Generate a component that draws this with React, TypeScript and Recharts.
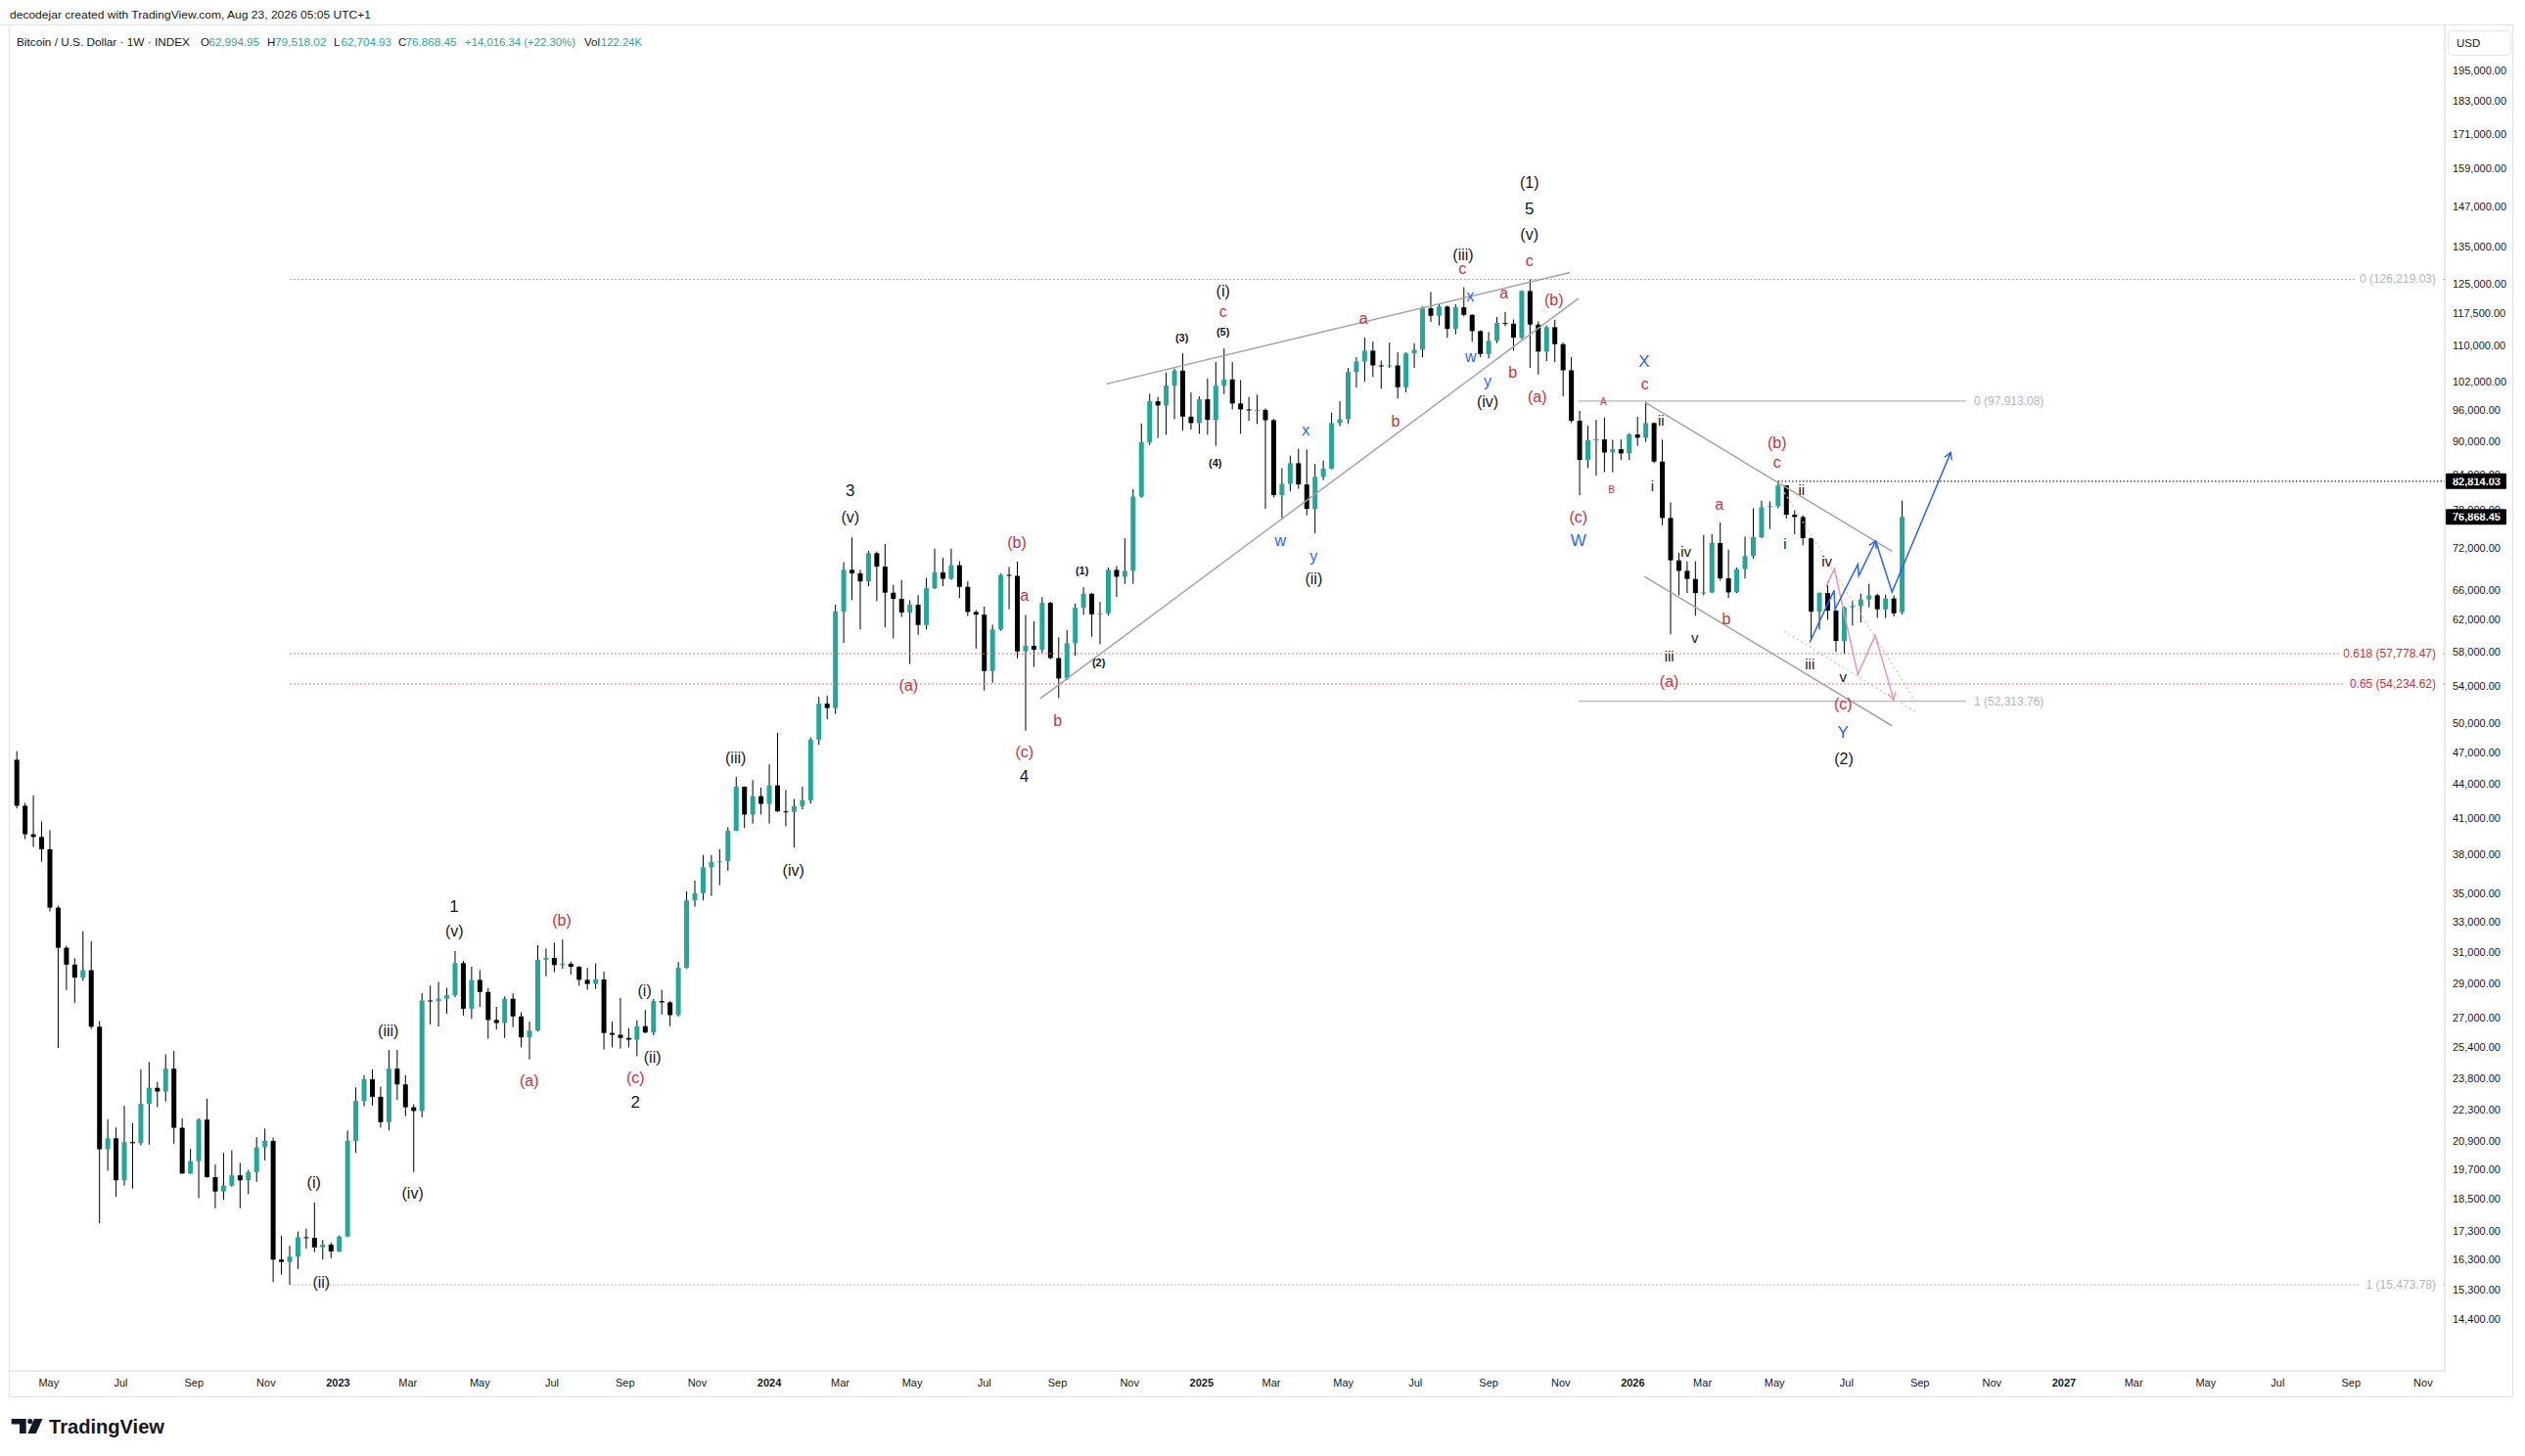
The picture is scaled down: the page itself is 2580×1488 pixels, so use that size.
import React from "react";
import { ComposedChart, Bar, Line, Scatter, XAxis, YAxis, ReferenceLine } from "recharts";

const FONT = "'Liberation Sans', Arial, Helvetica, sans-serif";
const W = 2580;
const H = 1488;
const X_MIN = -0.852;
const X_MAX = 293.62;
const Y_MIN = 12929;
const Y_MAX = 214866;
const RED = "#c9303e";
const BLUE = "#2962ff";
const TEAL = "#26a69a";
const INK = "#131722";

// weekly candles, week 0 = 2022-04-04
const opens = [46300,42060,39630,39410,38410,34000,31270,30190,29380,29840,26520,20535,21010,19245,20845,20795,22575,23345,23165,24295,21475,19520,20030,21845,19370,18800,19035,19445,19245,19580,20615,20895,16310,16230,16410,17090,17065,16730,16825,16590,17115,20895,22715,23770,22910,21730,24295,23510,22415,22240,28010,27970,28115,28315,30285,27535,29240,28515,26895,26725,28115,27095,25935,26300,30495,30610,30160,30245,30050,29245,28995,29270,26175,26075,25905,25810,26550,26200,27975,27900,27170,29995,34520,35045,37000,37385,37460,39920,43765,41295,42910,42225,43890,41570,41530,42030,42540,48290,52045,51570,63085,68835,68325,67175,71265,69290,65620,64770,62965,63985,61340,66245,68450,67550,69490,66425,63030,62675,55725,60760,68110,67970,58050,58725,58250,64245,57250,54860,59050,63595,65480,62730,62850,68820,67840,68680,80210,89810,97850,97000,101100,104320,94770,93490,98250,94130,101100,102420,97400,96200,96000,96100,94065,80440,82360,85980,82250,78165,83560,84995,93490,94260,104030,106330,108750,105450,105300,105450,100760,108150,108960,118800,116970,119230,113810,119060,117200,113280,108000,111000,115220,115050,111750,123170,114840,108530,114220,110230,104390,93950,86580,90190,90370,87930,88540,87760,91300,90680,93500,86280,76700,70200,68680,67530,65570,65660,72780,67610,65660,68930,70820,73670,78440,78600,82090,77220,76850,73530,63080,65570,63210,59330,63640,63810,64700,65260,63380,64830,62994.95];
const highs = [47140,42320,42990,40700,39975,34135,31400,30595,32370,31690,26830,21860,21490,22485,21695,24255,24640,23640,25030,25205,21900,20550,21900,22820,19890,20375,20490,19955,19670,21055,21440,21040,17145,16785,17295,17400,18370,16990,16905,17155,21355,23365,23970,24255,23400,25265,25265,23970,22560,28450,28900,29125,28760,31055,30430,30050,29840,28740,27640,28250,28435,27330,26800,31430,31225,31610,31815,30390,30110,29990,30265,29760,26800,28165,26440,26870,27460,28090,28645,27975,30355,35170,35975,37950,37950,38415,40220,44680,43800,44385,43680,45865,48980,43475,42660,43765,48515,52790,52940,63985,69945,73645,68835,71600,71500,72620,66710,67340,64585,65290,67690,71940,70590,71940,70070,67175,63275,63730,61390,68290,69245,70000,62650,61800,65030,64400,59785,60675,64160,66375,65600,64375,69150,69380,73525,81420,93420,99390,98750,103890,104750,108150,99670,98850,102640,106185,109260,106185,102270,98750,99200,96400,94330,85110,87330,88650,88470,85860,86455,95550,97850,104895,107260,111740,110830,106530,110620,108370,108370,110450,119230,122920,119920,119490,119800,124190,117400,113500,113050,116640,117900,116100,123340,126219.03,115630,114610,116010,110620,107270,95890,92980,94140,94580,90310,90370,91550,94710,97913.08,93630,90310,79240,71300,70070,70070,74020,74120,75970,71790,69160,73770,78270,79510,79400,82814.03,82140,77900,77120,73600,65660,67150,63300,63720,64590,65490,66840,65490,65360,65260,79518.02];
const lows = [41830,39230,38590,37430,33740,25360,28630,27860,29195,26400,17600,19630,18595,19035,18915,20700,20730,22415,22680,20780,19500,19500,18540,19350,18155,18480,18990,18155,18695,19185,20060,15560,15805,15473.78,15995,16690,16565,16310,16360,16565,17090,20375,22465,22490,21475,21355,22770,22000,19580,21950,26640,26535,27255,28200,27145,26955,27640,25865,26375,25905,26495,25400,24770,26250,29460,29710,29930,29570,28890,28645,28700,25280,25400,25335,25400,24930,26150,26050,27200,26550,27095,29945,34070,34520,34840,35635,36725,39880,40145,40520,41295,40520,41490,40290,38555,41740,42250,47755,50375,50945,59080,64585,60770,66510,64465,61050,59635,62375,56535,60090,60770,66120,66510,67400,64890,62500,58365,53490,54370,60600,63380,57225,49200,56190,57850,57100,52665,54700,57530,62650,59860,58920,62560,65030,66840,66840,80000,89320,90610,91230,94260,92030,92220,91420,91230,89140,99320,96200,91420,93940,93300,78165,80060,76690,81130,81520,77110,74270,83000,84900,92880,93430,100700,101930,102980,100420,104900,98380,99700,104895,107260,115460,114600,111740,112510,116800,110770,107270,107050,110470,114450,108750,111350,104890,103470,106400,106180,98860,93500,80430,85110,83780,84370,84370,86580,86580,89140,89880,85990,75550,60150,65260,65570,62520,65260,65570,67290,64910,65570,67610,70450,73530,74940,78270,76590,74120,72430,59460,60760,62020,58010,57740,61260,61680,63640,62230,62230,62440,62704.93];
const closes = [42060,39630,39410,38410,34000,31270,30190,29380,29840,26520,20535,21010,19245,20845,20795,22575,23345,23165,24295,21475,19520,20030,21845,19370,18800,19035,19445,19245,19580,20615,20895,16310,16230,16410,17090,17065,16730,16825,16590,17115,20895,22715,23770,22910,21730,24295,23510,22415,22240,28010,27970,28115,28315,30285,27535,29240,28515,26895,26725,28115,27095,25935,26300,30495,30610,30160,30245,30050,29245,28995,29270,26175,26075,25905,25810,26550,26200,27975,27900,27170,29995,34520,35045,37000,37385,37460,39920,43765,41295,42910,42225,43890,41570,41530,42030,42540,48290,52045,51570,63085,68835,68325,67175,71265,69290,65620,64770,62965,63985,61340,66245,68450,67550,69490,66425,63030,62675,55725,60760,68110,67970,58050,58725,58250,64245,57250,54860,59050,63595,65480,62730,62850,68820,67840,68680,80210,89810,97850,97000,101100,104320,94770,93490,98250,94130,101100,102420,97400,96200,96000,96100,94065,80440,82360,85980,82250,78165,83560,84995,93490,94260,104030,106330,108750,105450,105300,105450,100760,108150,108960,118800,116970,119230,113810,119060,117200,113280,108000,111000,115220,115050,111750,123170,114840,108530,114220,110230,104390,93950,86580,90190,90370,87930,88540,87760,91300,90680,93500,86280,76700,70200,68680,67530,65570,65660,72780,67610,65660,68930,70820,73670,78440,78600,82090,77220,76850,73530,63080,65570,63210,59330,63640,63810,64700,65260,63380,64830,62852.11,76868.45];

const priceTicks = [195000,183000,171000,159000,147000,135000,125000,117500,110000,102000,96000,90000,84000,78000,72000,66000,62000,58000,54000,50000,47000,44000,41000,38000,35000,33000,31000,29000,27000,25400,23800,22300,20900,19700,18500,17300,16300,15300,14400];

const monthTicks = ["2022-05","2022-07","2022-09","2022-11","2023-01","2023-03","2023-05","2023-07","2023-09","2023-11","2024-01","2024-03","2024-05","2024-07","2024-09","2024-11","2025-01","2025-03","2025-05","2025-07","2025-09","2025-11","2026-01","2026-03","2026-05","2026-07","2026-09","2026-11","2027-01","2027-03","2027-05","2027-07","2027-09","2027-11"];
const MONTH_NAMES = ["Jan","Feb","Mar","Apr","May","Jun","Jul","Aug","Sep","Oct","Nov","Dec"];

// wave count labels: text, week index, price, kind
const waveLabels = [
  { t: "1", i: 52.88, p: 34050, k: "num" },
  { t: "(v)", i: 52.92, p: 32370, k: "blk" },
  { t: "(iii)", i: 44.92, p: 26310, k: "blk" },
  { t: "(iv)", i: 47.87, p: 18730, k: "blk" },
  { t: "(i)", i: 35.92, p: 19140, k: "blk" },
  { t: "(ii)", i: 36.82, p: 15565, k: "blk" },
  { t: "(b)", i: 65.9, p: 33120, k: "red" },
  { t: "(a)", i: 61.96, p: 23680, k: "red" },
  { t: "(c)", i: 74.81, p: 23835, k: "red" },
  { t: "2", i: 74.81, p: 22635, k: "num" },
  { t: "(i)", i: 75.92, p: 28610, k: "blk" },
  { t: "(ii)", i: 76.87, p: 24860, k: "blk" },
  { t: "(iii)", i: 86.93, p: 46500, k: "blk" },
  { t: "(iv)", i: 93.92, p: 36790, k: "blk" },
  { t: "(a)", i: 107.84, p: 54040, k: "red" },
  { t: "3", i: 100.79, p: 81120, k: "num" },
  { t: "(v)", i: 100.79, p: 76860, k: "blk" },
  { t: "(b)", i: 120.94, p: 72920, k: "red" },
  { t: "a", i: 121.85, p: 65265, k: "red" },
  { t: "(c)", i: 121.85, p: 47060, k: "red" },
  { t: "4", i: 121.83, p: 44740, k: "num" },
  { t: "b", i: 125.87, p: 50280, k: "red" },
  { t: "(1)", i: 128.83, p: 68680, k: "sm" },
  { t: "(2)", i: 130.84, p: 56755, k: "sm" },
  { t: "(3)", i: 140.9, p: 111750, k: "sm" },
  { t: "(4)", i: 144.93, p: 85985, k: "sm" },
  { t: "(5)", i: 145.87, p: 113055, k: "sm" },
  { t: "c", i: 145.87, p: 118010, k: "red" },
  { t: "(i)", i: 145.87, p: 123180, k: "blk" },
  { t: "w", i: 152.81, p: 73170, k: "blue" },
  { t: "x", i: 155.89, p: 92170, k: "blue" },
  { t: "y", i: 156.84, p: 70820, k: "blue" },
  { t: "(ii)", i: 156.84, p: 67510, k: "blk" },
  { t: "a", i: 162.87, p: 116405, k: "red" },
  { t: "b", i: 166.74, p: 93940, k: "red" },
  { t: "(iii)", i: 174.91, p: 132930, k: "blk" },
  { t: "c", i: 174.82, p: 129105, k: "red" },
  { t: "x", i: 175.77, p: 121830, k: "blue" },
  { t: "w", i: 175.82, p: 107490, k: "blue" },
  { t: "y", i: 177.87, p: 102080, k: "blue" },
  { t: "(iv)", i: 177.87, p: 97855, k: "blk" },
  { t: "a", i: 179.84, p: 122680, k: "red" },
  { t: "b", i: 180.91, p: 103890, k: "red" },
  { t: "(1)", i: 182.92, p: 154400, k: "blk" },
  { t: "5", i: 182.92, p: 146235, k: "num" },
  { t: "(v)", i: 182.92, p: 138670, k: "blk" },
  { t: "c", i: 182.92, p: 131125, k: "red" },
  { t: "(b)", i: 185.88, p: 121010, k: "red" },
  { t: "(a)", i: 183.87, p: 98860, k: "red" },
  { t: "A", i: 191.87, p: 97855, k: "redSm" },
  { t: "B", i: 192.86, p: 81420, k: "redSm" },
  { t: "X", i: 196.8, p: 106335, k: "blueL" },
  { t: "c", i: 196.89, p: 101370, k: "red" },
  { t: "ii", i: 198.85, p: 94070, k: "rom" },
  { t: "i", i: 197.79, p: 82085, k: "rom" },
  { t: "(c)", i: 188.84, p: 76845, k: "red" },
  { t: "W", i: 188.84, p: 73115, k: "blueL" },
  { t: "a", i: 205.88, p: 78960, k: "red" },
  { t: "(b)", i: 212.87, p: 89755, k: "red" },
  { t: "c", i: 212.87, p: 86160, k: "red" },
  { t: "ii", i: 215.83, p: 81300, k: "rom" },
  { t: "i", i: 213.85, p: 72770, k: "rom" },
  { t: "iv", i: 201.86, p: 71545, k: "rom" },
  { t: "v", i: 202.92, p: 59730, k: "rom" },
  { t: "iii", i: 199.84, p: 57455, k: "rom" },
  { t: "(a)", i: 199.84, p: 54560, k: "red" },
  { t: "b", i: 206.75, p: 62090, k: "red" },
  { t: "iv", i: 218.9, p: 70100, k: "rom" },
  { t: "iii", i: 216.84, p: 56570, k: "rom" },
  { t: "v", i: 220.86, p: 55040, k: "rom" },
  { t: "(c)", i: 220.86, p: 52025, k: "red" },
  { t: "Y", i: 220.86, p: 49030, k: "blueL" },
  { t: "(2)", i: 220.95, p: 46425, k: "blk" },
];

// trend lines (week index, price)
const wedgeUpper = [{ i: 131.79, p: 101460 }, { i: 187.81, p: 128050 }];
const wedgeLower = [{ i: 123.74, p: 52590 }, { i: 188.84, p: 121260 }];
const channelUpper = [{ i: 196.89, p: 97650 }, { i: 226.78, p: 71545 }];
const channelLower = [{ i: 196.82, p: 67890 }, { i: 226.78, p: 49700 }];
const endingUpper = [{ i: 213.76, p: 80875 }, { i: 229.74, p: 52130 }];
const endingLower = [{ i: 213.76, p: 60550 }, { i: 229.56, p: 51180 }];
const bluePathA = [
  { i: 216.81, p: 59120 }, { i: 219.77, p: 65930 }, { i: 219.88, p: 63370 },
  { i: 222.64, p: 69610 }, { i: 222.76, p: 67985 }, { i: 224.8, p: 73115 },
];
const bluePathB = [{ i: 224.8, p: 73115 }, { i: 226.78, p: 65705 }, { i: 233.88, p: 87940 }];
const pinkPath = [
  { i: 218.81, p: 66380 }, { i: 219.8, p: 69005 }, { i: 222.64, p: 55310 },
  { i: 224.74, p: 60020 }, { i: 226.98, p: 52480 },
];

// fibonacci levels
const fibMainStart = 33;
const fibMainLevels = [
  { v: 126219.03, label: "0 (126,219.03)", k: "gray" },
  { v: 57778.47, label: "0.618 (57,778.47)", k: "red" },
  { v: 54234.62, label: "0.65 (54,234.62)", k: "red" },
  { v: 15473.78, label: "1 (15,473.78)", k: "gray" },
];
const fibSecondStart = 188.84;
const fibSecondEnd = 235.74;
const fibSecondLevels = [
  { v: 97913.08, label: "0 (97,913.08)" },
  { v: 52313.76, label: "1 (52,313.76)" },
];
const bHighWeek = 213;
const bHighPrice = 82814.03;
const lastPrice = 76868.45;

const candles = opens.map((o, k) => ({
  i: k, o, h: highs[k], l: lows[k], c: closes[k], range: [lows[k], highs[k]],
}));

const weekOf = (s: string) => {
  const [y, m] = s.split("-").map(Number);
  return (Date.UTC(y, m - 1, 1) - Date.UTC(2022, 3, 4)) / (7 * 86400000);
};
const monthTickValues = monthTicks.map(weekOf);
const monthTickLabels = monthTicks.map((s) => {
  const [y, m] = s.split("-").map(Number);
  return m === 1 ? String(y) : MONTH_NAMES[m - 1];
});

const labelStyles: Record<string, { size: number; fill: string; weight: number }> = {
  num: { size: 17, fill: INK, weight: 500 },
  blk: { size: 16, fill: INK, weight: 400 },
  red: { size: 16, fill: RED, weight: 400 },
  sm: { size: 11, fill: INK, weight: 700 },
  redSm: { size: 10, fill: RED, weight: 400 },
  blue: { size: 16, fill: BLUE, weight: 400 },
  blueL: { size: 17, fill: BLUE, weight: 400 },
  rom: { size: 15, fill: INK, weight: 400 },
};

const fmt2 = (v: number) =>
  v.toLocaleString("en-US", { minimumFractionDigits: 2, maximumFractionDigits: 2 });

const Candle = (props: any) => {
  const { x, y, width, height, payload } = props;
  if (!payload || x == null) return null;
  const top = Math.min(y, y + height);
  const bot = Math.max(y, y + height);
  const lh = Math.log(payload.h);
  const ll = Math.log(payload.l);
  const span = lh - ll || 1;
  const py = (v: number) => top + ((bot - top) * (lh - Math.log(v))) / span;
  const cx = x + width / 2;
  const up = payload.c >= payload.o;
  const yo = py(payload.o);
  const yc = py(payload.c);
  const bTop = Math.min(yo, yc);
  const bH = Math.max(1, Math.abs(yc - yo));
  return (
    <g>
      <line x1={cx} x2={cx} y1={top} y2={bot} stroke="#000" strokeWidth={1} />
      <rect x={cx - 2.5} y={bTop} width={5} height={bH} fill={up ? TEAL : "#000"} />
    </g>
  );
};

const WaveText = (props: any) => {
  const { cx, cy, payload } = props;
  if (cx == null || !payload) return null;
  const s = labelStyles[payload.k];
  return (
    <text x={cx} y={cy} textAnchor="middle" dominantBaseline="central" fontSize={s.size}
      fill={s.fill} fontWeight={s.weight} fontFamily={FONT}>{payload.t}</text>
  );
};

const TimeTick = (props: any) => {
  const { x, y, payload } = props;
  let idx = 0;
  let best = Infinity;
  monthTickValues.forEach((v, k) => {
    const d = Math.abs(v - payload.value);
    if (d < best) { best = d; idx = k; }
  });
  const lab = monthTickLabels[idx];
  const isYear = /^\d{4}$/.test(lab);
  return (
    <text x={x} y={y} dy="0.71em" textAnchor="middle" fontSize={11} fill={INK}
      fontWeight={isYear ? 700 : 400} fontFamily={FONT}>{lab}</text>
  );
};

const fibEndLabel = (text: string, color: string) => (props: any) => {
  const vb = props.viewBox || {};
  const right = vb.x + vb.width;
  const y = vb.y + (vb.height || 0) / 2;
  const tw = text.length * 5.55;
  return (
    <g>
      <rect x={right - 9 - tw - 5} y={y - 8} width={tw + 10} height={16} fill="#fff" />
      <text x={right - 9} y={y} textAnchor="end" dominantBaseline="central" fontSize={12}
        fill={color} fontFamily={FONT}>{text}</text>
    </g>
  );
};

const fibAfterLabel = (text: string) => (props: any) => {
  const vb = props.viewBox || {};
  const right = vb.x + vb.width;
  const y = vb.y + (vb.height || 0) / 2;
  return (
    <text x={right + 8} y={y} textAnchor="start" dominantBaseline="central" fontSize={12}
      fill="#b2b5be" fontFamily={FONT}>{text}</text>
  );
};

const priceBox = (text: string) => (props: any) => {
  const vb = props.viewBox || {};
  const right = vb.x + vb.width;
  const y = vb.y + (vb.height || 0) / 2;
  return (
    <g>
      <rect x={right + 1} y={y - 8} width={62} height={16} fill="#000" rx={1} />
      <text x={right + 8} y={y} dominantBaseline="central" fontSize={11} fontWeight={700}
        fill="#fff" fontFamily={FONT}>{text}</text>
    </g>
  );
};

export default function App() {
  return (
    <div style={{ position: "absolute", left: 0, top: 0, width: W, height: H, background: "#fff", fontFamily: FONT, overflow: "hidden" }}>
      <ComposedChart width={W} height={H} data={candles} margin={{ top: 25, right: 13, bottom: 60, left: 10 }}>
        <defs>
          <marker id="arrowBlue" viewBox="0 0 12 12" refX="10" refY="6" markerWidth="12" markerHeight="12" orient="auto" markerUnits="userSpaceOnUse">
            <path d="M3,2 L10,6 L3,10" fill="none" stroke={BLUE} strokeWidth={1.4} />
          </marker>
          <marker id="arrowPink" viewBox="0 0 12 12" refX="10" refY="6" markerWidth="12" markerHeight="12" orient="auto" markerUnits="userSpaceOnUse">
            <path d="M3,2 L10,6 L3,10" fill="none" stroke="#f48fb1" strokeWidth={1.4} />
          </marker>
        </defs>
        <XAxis type="number" dataKey="i" domain={[X_MIN, X_MAX]} allowDataOverflow ticks={monthTickValues}
          interval={0} tickLine={false} axisLine={{ stroke: "#d1d4dc" }} height={27} tick={<TimeTick />} />
        <YAxis orientation="right" type="number" scale="log" domain={[Y_MIN, Y_MAX]} allowDataOverflow
          ticks={priceTicks} interval={0} tickLine={false} axisLine={{ stroke: "#d1d4dc" }} width={69}
          tickFormatter={fmt2} tick={{ fontSize: 11, fill: INK, fontFamily: FONT }} />

        {fibMainLevels.map((f) => (
          <ReferenceLine key={f.label} segment={[{ x: fibMainStart, y: f.v }, { x: X_MAX, y: f.v }]}
            stroke={f.k === "red" ? "#e57373" : "#b2b5be"} strokeDasharray="2 2" strokeWidth={1}
            label={fibEndLabel(f.label, f.k === "red" ? RED : "#b2b5be")} />
        ))}
        {fibSecondLevels.map((f) => (
          <ReferenceLine key={f.label} segment={[{ x: fibSecondStart, y: f.v }, { x: fibSecondEnd, y: f.v }]}
            stroke="#b2b5be" strokeWidth={1.2} label={fibAfterLabel(f.label)} />
        ))}
        <ReferenceLine segment={[{ x: bHighWeek, y: bHighPrice }, { x: X_MAX, y: bHighPrice }]}
          stroke="#000" strokeDasharray="1.2 2.4" strokeWidth={1.2} label={priceBox(fmt2(bHighPrice))} />

        <Bar dataKey="range" barSize={5} shape={<Candle />} isAnimationActive={false} />

        <Line data={wedgeUpper} dataKey="p" stroke="#a3a3a3" strokeWidth={1.5} dot={false} isAnimationActive={false} />
        <Line data={wedgeLower} dataKey="p" stroke="#a3a3a3" strokeWidth={1.5} dot={false} isAnimationActive={false} />
        <Line data={channelUpper} dataKey="p" stroke="#a3a3a3" strokeWidth={1.5} dot={false} isAnimationActive={false} />
        <Line data={channelLower} dataKey="p" stroke="#a3a3a3" strokeWidth={1.5} dot={false} isAnimationActive={false} />
        <Line data={endingUpper} dataKey="p" stroke="#c4c4c4" strokeWidth={1.3} strokeDasharray="2 3" dot={false} isAnimationActive={false} />
        <Line data={endingLower} dataKey="p" stroke="#c4c4c4" strokeWidth={1.3} strokeDasharray="2 3" dot={false} isAnimationActive={false} />
        <Line data={pinkPath} dataKey="p" stroke="#f48fb1" strokeWidth={1.5} dot={false} isAnimationActive={false} markerEnd="url(#arrowPink)" />
        <Line data={bluePathA} dataKey="p" stroke={BLUE} strokeWidth={1.5} dot={false} isAnimationActive={false} markerEnd="url(#arrowBlue)" />
        <Line data={bluePathB} dataKey="p" stroke={BLUE} strokeWidth={1.5} dot={false} isAnimationActive={false} markerEnd="url(#arrowBlue)" />

        <Scatter data={waveLabels} dataKey="p" shape={<WaveText />} isAnimationActive={false} />

        <ReferenceLine y={lastPrice} stroke="none" strokeWidth={0} label={priceBox(fmt2(lastPrice))} />
      </ComposedChart>

      <svg width={W} height={H} style={{ position: "absolute", left: 0, top: 0, pointerEvents: "none" }}>
        <line x1={0} y1={25.5} x2={2567} y2={25.5} stroke="#e0e3eb" />
        <line x1={9.5} y1={25.5} x2={9.5} y2={1428} stroke="#e0e3eb" />
        <line x1={2567.5} y1={25.5} x2={2567.5} y2={1428} stroke="#e0e3eb" />
        <line x1={9.5} y1={1427.5} x2={2567.5} y2={1427.5} stroke="#e0e3eb" />
        <text x={10} y={19} fontSize={11.5} fill={INK} fontFamily={FONT} textLength={369} lengthAdjust="spacingAndGlyphs">
          decodejar created with TradingView.com, Aug 23, 2026 05:05 UTC+1
        </text>
        <g fontSize={11.5} fontFamily={FONT}>
          <text x={17} y={47} fill={INK} textLength={177} lengthAdjust="spacingAndGlyphs">Bitcoin / U.S. Dollar · 1W · INDEX</text>
          <text x={205} y={47} fill={INK}>O</text>
          <text x={213.5} y={47} fill={TEAL} textLength={51.5} lengthAdjust="spacingAndGlyphs">62,994.95</text>
          <text x={273} y={47} fill={INK}>H</text>
          <text x={281} y={47} fill={TEAL} textLength={52.5} lengthAdjust="spacingAndGlyphs">79,518.02</text>
          <text x={341} y={47} fill={INK}>L</text>
          <text x={348.5} y={47} fill={TEAL} textLength={51.5} lengthAdjust="spacingAndGlyphs">62,704.93</text>
          <text x={407} y={47} fill={INK}>C</text>
          <text x={414.5} y={47} fill={TEAL} textLength={52} lengthAdjust="spacingAndGlyphs">76,868.45</text>
          <text x={475} y={47} fill={TEAL} textLength={113} lengthAdjust="spacingAndGlyphs">+14,016.34 (+22.30%)</text>
          <text x={597} y={47} fill={INK} textLength={16} lengthAdjust="spacingAndGlyphs">Vol</text>
          <text x={614} y={47} fill={TEAL} textLength={42} lengthAdjust="spacingAndGlyphs">122.24K</text>
        </g>
        <rect x={2501.5} y={31.5} width={64} height={25} rx={4} fill="#fff" stroke="#e0e3eb" />
        <text x={2510} y={48} fontSize={11.5} fill={INK} fontFamily={FONT}>USD</text>
        <g fill={INK}>
          <path d="M11.7,1450 H26.7 V1465 H20 V1455.5 H11.7 Z" />
          <circle cx={30.8} cy={1452.6} r={2.6} />
          <path d="M35,1450 H43.5 L36.8,1465 H28.3 Z" />
        </g>
        <text x={50} y={1465} fontSize={21} fontWeight={700} fill={INK} fontFamily={FONT} textLength={118} lengthAdjust="spacingAndGlyphs">TradingView</text>
      </svg>
    </div>
  );
}
